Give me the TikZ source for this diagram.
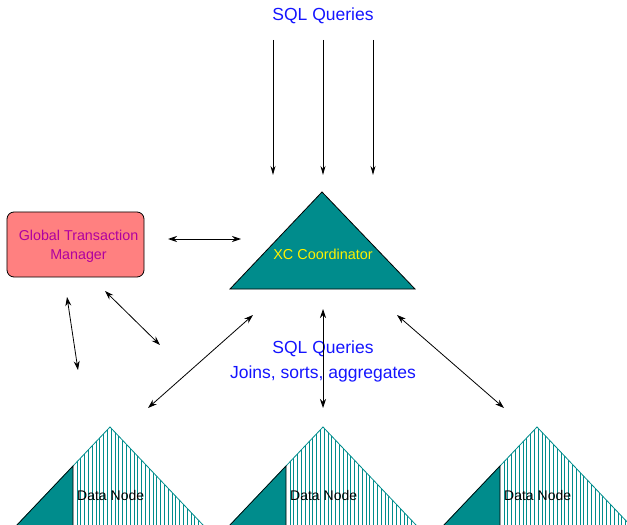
\documentclass[tikz,border=0pt]{standalone}
\usepackage{fontspec}
\setmainfont{Liberation Sans}
\usetikzlibrary{arrows.meta}
\definecolor{tealfill}{RGB}{0,140,140}
\definecolor{salmon}{RGB}{255,128,128}
\definecolor{gtmtext}{RGB}{176,0,160}
\definecolor{qblue}{RGB}{20,20,255}
\begin{document}
\begin{tikzpicture}[x=1bp,y=-1bp,
  link/.style={line width=0.8bp,
    {Stealth[length=9bp,width=6bp]}-{Stealth[length=9bp,width=6bp]}},
  feed/.style={line width=0.9bp, -{Stealth[length=9bp,width=5bp]}},
  qtext/.style={text=qblue, font=\fontsize{17.5bp}{25bp}\selectfont,
    inner sep=0pt, align=center},
  dntext/.style={text=black, font=\fontsize{14bp}{17bp}\selectfont,
    inner sep=0pt, anchor=west},
  hatch/.style={draw=tealfill, line width=0.6bp},
]
\clip (0,0) rectangle (627,525);

% ---- query label and incoming query arrows ----
\node[qtext] (sqltop) at (323,16) {SQL Queries};
\foreach \i/\qx in {1/273, 2/323, 3/373} {
  \coordinate (qs\i) at (\qx,40);
  \coordinate (qe\i) at (\qx,175);
  \draw[feed] (qs\i) -- (qe\i);
}

% ---- coordinator ----
\filldraw[fill=tealfill, draw=black, line width=0.8bp]
  (322,192) -- (415,289) -- (230,289) -- cycle;
\node[text=yellow, font=\fontsize{14.4bp}{17bp}\selectfont, inner sep=0pt]
  (xc) at (323,254) {XC Coordinator};

% ---- global transaction manager ----
\node[draw=black, line width=0.8bp, fill=salmon, rounded corners=7bp,
      minimum width=137bp, minimum height=65bp, inner sep=0pt]
  (gtm) at (75.5,244.5) {};
\node[text=gtmtext, align=center, inner sep=0pt,
      font=\fontsize{14.3bp}{19bp}\selectfont]
  (gtmlabel) at (78.5,246.5) {Global Transaction\\Manager};

% ---- data nodes ----
\foreach \n/\ax in {1/110, 2/323, 3/537} {
  \coordinate (apex\n) at (\ax,427);
  \begin{scope}
    \clip (apex\n) -- (\ax-102.5,535) -- (\ax+102.5,535) -- cycle;
    \foreach \h in {1,...,37}
      \draw[hatch] (\ax-37+\h*3.8,420) -- ++(0,120);
  \end{scope}
  \draw[draw=tealfill, line width=0.8bp]
    (\ax-102.5,535) -- (apex\n) -- (\ax+102.5,535);
  \filldraw[fill=tealfill, draw=black, line width=0.7bp]
    (\ax-102.5,535) -- (\ax-37,466) -- (\ax-37,535) -- cycle;
  \node[dntext] (dn\n) at (\ax-33,495) {Data Node};
}

% ---- middle labels ----
\node[qtext] (sqlmid) at (323,349) {SQL Queries};
\node[qtext] (ops) at (323,374) {Joins, sorts, aggregates};

% ---- two-way links ----
\coordinate (g1) at (168,239);  \coordinate (c1) at (241,239);
\coordinate (g2) at (67,297);   \coordinate (d2) at (78,370);
\coordinate (g3) at (105,291);  \coordinate (d3) at (160,345);
\coordinate (c4) at (253,315);  \coordinate (d4) at (148,408);
\coordinate (c5) at (323,309);  \coordinate (d5) at (323,408);
\coordinate (c6) at (397,315);  \coordinate (d6) at (504,408);
\draw[link] (g1) -- (c1);
\draw[link] (g2) -- (d2);
\draw[link] (g3) -- (d3);
\draw[link] (c4) -- (d4);
\draw[link] (c5) -- (d5);
\draw[link] (c6) -- (d6);
\end{tikzpicture}
\end{document}
